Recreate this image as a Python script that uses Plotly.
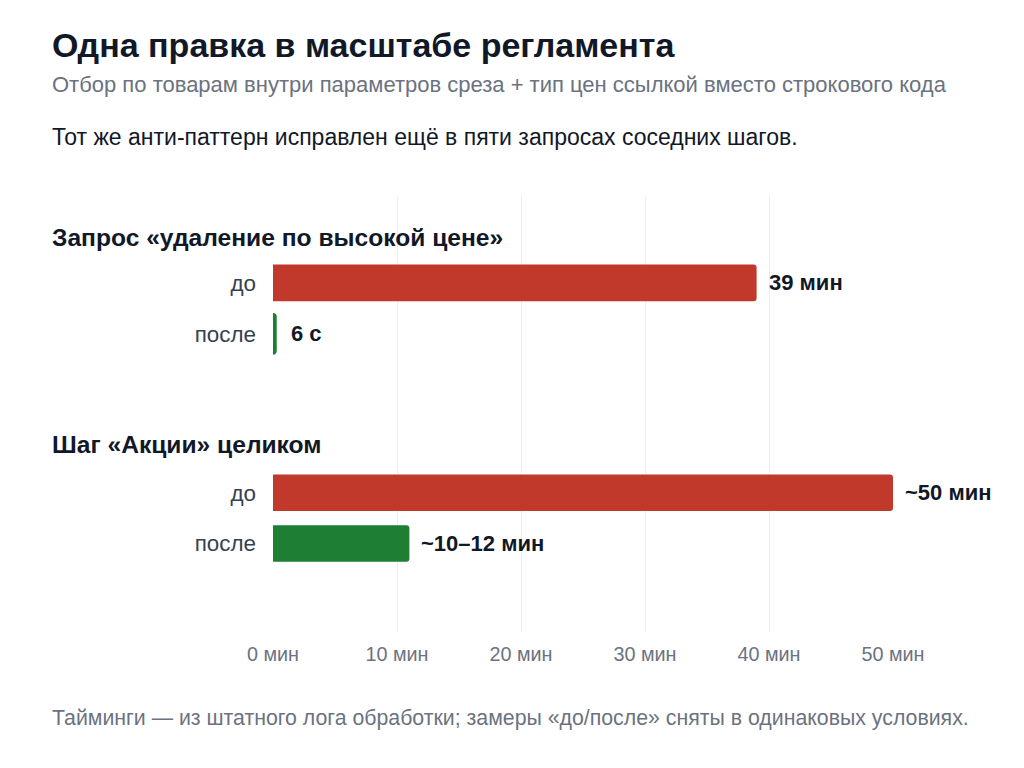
import plotly.graph_objects as go

# Data
groups = ['Запрос «удаление по высокой цене»', 'Шаг «Акции» целиком']
stages = ['до', 'после']
minutes = [[39, 0.1], [50, 11]]
value_labels = [['39 мин', '6 с'], ['~50 мин', '~10–12 мин']]
tick_vals = [0, 10, 20, 30, 40, 50]
tick_text = ['0 мин', '10 мин', '20 мин', '30 мин', '40 мин', '50 мин']

title = 'Одна правка в масштабе регламента'
subtitle = 'Отбор по товарам внутри параметров среза + тип цен ссылкой вместо строкового кода'
note = 'Тот же анти-паттерн исправлен ещё в пяти запросах соседних шагов.'
footer = 'Тайминги — из штатного лога обработки; замеры «до/после» сняты в одинаковых условиях.'

RED = '#c0392b'
GREEN = '#1e7e34'
FONT = 'Liberation Sans, Arial, sans-serif'

# plot area in screen pixels: x 273..893, y 196..632 (page has 8px body margin)
L, R, T, B = 273, 893, 196, 632
W, H = 1024, 768
OFF = 8


def px(x):
    return (x - L) / (R - L)


def py(y):
    return (B - y) / (B - T)


fig = go.Figure()

for i, (grp, vals, labs) in enumerate(zip(groups, minutes, value_labels)):
    xa = 'x' if i == 0 else 'x2'
    ya = 'y' if i == 0 else 'y2'
    # very short bars get a stroke so they stay visible
    strokes = [5 if v < 1 else 0 for v in vals]
    fig.add_trace(go.Bar(
        x=vals, y=stages, orientation='h',
        xaxis=xa, yaxis=ya,
        marker=dict(color=[RED, GREEN], cornerradius=3,
                    line=dict(color=[RED, GREEN], width=strokes)),
        width=0.72,
        cliponaxis=False,
        hoverinfo='skip',
        showlegend=False,
    ))
    for v, lab, st in zip(vals, labs, stages):
        fig.add_annotation(
            x=v, y=st, xref=xa, yref=ya, text='<b>%s</b>' % lab,
            xanchor='left', yanchor='middle', xshift=10 if v >= 1 else 15,
            showarrow=False, font=dict(family=FONT, size=22, color='#111827'),
        )

# group headers
for yy, grp in zip([237, 444], groups):
    fig.add_annotation(x=px(50), y=py(yy), xref='paper', yref='paper',
                       text='<b>%s</b>' % grp, xanchor='left', yanchor='middle',
                       showarrow=False, font=dict(family=FONT, size=24.6, color='#111827'))

texts = [
    (title, 45, 34, '#111827', True),
    (subtitle, 84, 22, '#6b7280', False),
    (note, 137, 23, '#111827', False),
    (footer, 718, 21.3, '#6b7280', False),
]
for t, yy, sz, col, bold in texts:
    fig.add_annotation(x=px(50), y=py(yy), xref='paper', yref='paper',
                       text='<b>%s</b>' % t if bold else t,
                       xanchor='left', yanchor='middle', showarrow=False,
                       font=dict(family=FONT, size=sz, color=col))

axis_x = dict(range=[0, 50], tickvals=tick_vals, ticktext=tick_text,
              showgrid=True, gridcolor='#eeeeee', gridwidth=1, zeroline=False,
              showline=False, fixedrange=True)
cat_font = dict(family=FONT, size=22.4, color='#374151')

fig.update_layout(
    width=W, height=H,
    margin=dict(l=L - OFF, r=W - R + OFF, t=T - OFF, b=H - B + OFF),
    paper_bgcolor='white', plot_bgcolor='white',
    font=dict(family=FONT),
    xaxis=dict(axis_x, anchor='y', showticklabels=False),
    xaxis2=dict(axis_x, anchor='y2', matches='x', ticklabelstandoff=8,
                tickfont=dict(family=FONT, size=19.8, color='#6b7280')),
    yaxis=dict(domain=[0.5, 1], range=[2.57, -1.706], showgrid=False,
               ticklabelstandoff=16, tickfont=cat_font),
    yaxis2=dict(domain=[0, 0.5], range=[2.745, -1.55], showgrid=False,
                ticklabelstandoff=16, tickfont=cat_font),
)

fig.write_html('out.html', config={'displayModeBar': False})
